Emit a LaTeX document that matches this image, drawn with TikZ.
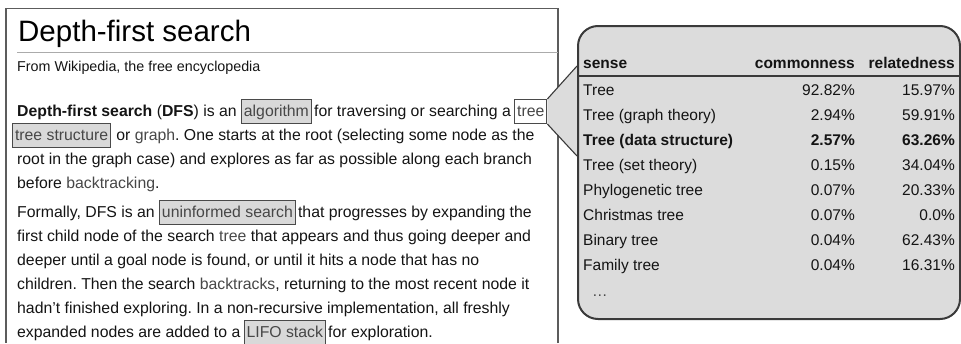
\documentclass[tikz,border=0pt]{standalone}
\usepackage{fontspec}
\setmainfont{Liberation Sans}
\definecolor{inkgray}{HTML}{141414}
\definecolor{linkgray}{HTML}{474747}
\definecolor{boxfill}{HTML}{D9D9D9}
\definecolor{boxline}{HTML}{4A4A4A}
\definecolor{panelfill}{HTML}{DCDCDC}
\definecolor{panelline}{HTML}{3A3A3A}
\definecolor{framegray}{HTML}{5C5C5C}
\definecolor{rulegray}{HTML}{ABABAB}
\newcommand{\lnk}[1]{\textcolor{linkgray}{#1}}
\frenchspacing

\begin{document}
\begin{tikzpicture}[x=1pt,y=1pt]
\tikzstyle{every node}+=[inner sep=0pt]
\tikzstyle{body}=[anchor=base west,text=inkgray,font=\fontsize{15.8}{19}\selectfont]
\tikzstyle{gbox}=[body,draw=boxline,fill=boxfill,text=linkgray,line width=1.1pt,inner xsep=2.5pt,inner ysep=3.5pt,text height=13pt,text depth=4pt]
\tikzstyle{wbox}=[gbox,fill=white]
\tikzstyle{cell}=[text=inkgray,font=\fontsize{15.5}{18}\selectfont]
\tikzstyle{head}=[cell,font=\fontsize{15.5}{18}\selectfont\bfseries]
\useasboundingbox (0,0) rectangle (961,-343);
\draw [framegray,line width=1.2] (558,-343) -- (558,-8.5) -- (6,-8.5) -- (6,-343);
\draw (18,-41) node [anchor=base west,text=black,font=\fontsize{29.5}{34}\selectfont] (ttl) {Depth-first search};
\draw [rulegray,line width=1] (17,-52) -- (558,-52);
\draw (17,-71) node [anchor=base west,text=inkgray,font=\fontsize{14.3}{17}\selectfont] (sub) {From Wikipedia, the free encyclopedia};
\draw (17,-116) node [body] (l1a) {\textbf{Depth-first search} (\textbf{DFS}) is an};
\draw ([xshift=4]l1a.base east) node [gbox] (algo) {algorithm};
\draw ([xshift=2]algo.base east) node [body] (l1b) {for traversing or searching a};
\draw ([xshift=3]l1b.base east) node [wbox] (tree) {tree};
\draw (12,-140) node [gbox] (tstr) {tree structure};
\draw ([xshift=5]tstr.base east) node [body] (l2) {or \lnk{graph}. One starts at the root (selecting some node as the};
\draw (17,-164) node [body] (l3) {root in the graph case) and explores as far as possible along each branch};
\draw (17,-188) node [body] (l4) {before \lnk{backtracking}.};
\draw (17,-217) node [body] (l5a) {Formally, DFS is an};
\draw ([xshift=4]l5a.base east) node [gbox] (unin) {uninformed search};
\draw ([xshift=2]unin.base east) node [body] (l5b) {that progresses by expanding the};
\draw (17,-241) node [body] (l6) {first child node of the search \lnk{tree} that appears and thus going deeper and};
\draw (17,-265) node [body] (l7) {deeper until a goal node is found, or until it hits a node that has no};
\draw (17,-289) node [body] (l8) {children. Then the search \lnk{backtracks}, returning to the most recent node it};
\draw (17,-313) node [body] (l9) {hadn't finished exploring. In a non-recursive implementation, all freshly};
\draw (17,-337) node [body] (l10a) {expanded nodes are added to a};
\draw ([xshift=3]l10a.base east) node [gbox] (lifo) {LIFO stack};
\draw ([xshift=2]lifo.base east) node [body] (l10b) {for exploration.};
\coordinate (pa) at (577,-66);
\coordinate (pb) at (577,-156);
\fill [panelfill] (tree.north east) -- (pa) -- (pb) -- (tree.south east) -- cycle;
\draw [panelline,line width=1.1] (tree.north east) -- (pa);
\draw [panelline,line width=1.1] (tree.south east) -- (pb);
\draw (577,-25) node [anchor=north west,draw=panelline,fill=panelfill,line width=2,rounded corners=20,minimum width=382,minimum height=293] (pnl) {};
\draw [panelline,line width=1.2] (577,-76) -- (959,-76);
\draw (583,-68) node [head,anchor=base west] (hs) {sense};
\draw (855,-68) node [head,anchor=base east] (hc) {commonness};
\draw (955,-68) node [head,anchor=base east] (hr) {relatedness};
\draw (583,-95) node [cell,anchor=base west] (s1) {Tree};
\draw (855,-95) node [cell,anchor=base east] (c1) {92.82\%};
\draw (955,-95) node [cell,anchor=base east] (r1) {15.97\%};
\draw (583,-120) node [cell,anchor=base west] (s2) {Tree (graph theory)};
\draw (855,-120) node [cell,anchor=base east] (c2) {2.94\%};
\draw (955,-120) node [cell,anchor=base east] (r2) {59.91\%};
\draw (583,-145) node [head,anchor=base west] (s3) {Tree (data structure)};
\draw (855,-145) node [head,anchor=base east] (c3) {2.57\%};
\draw (955,-145) node [head,anchor=base east] (r3) {63.26\%};
\draw (583,-170) node [cell,anchor=base west] (s4) {Tree (set theory)};
\draw (855,-170) node [cell,anchor=base east] (c4) {0.15\%};
\draw (955,-170) node [cell,anchor=base east] (r4) {34.04\%};
\draw (583,-195) node [cell,anchor=base west] (s5) {Phylogenetic tree};
\draw (855,-195) node [cell,anchor=base east] (c5) {0.07\%};
\draw (955,-195) node [cell,anchor=base east] (r5) {20.33\%};
\draw (583,-220) node [cell,anchor=base west] (s6) {Christmas tree};
\draw (855,-220) node [cell,anchor=base east] (c6) {0.07\%};
\draw (955,-220) node [cell,anchor=base east] (r6) {0.0\%};
\draw (583,-245) node [cell,anchor=base west] (s7) {Binary tree};
\draw (855,-245) node [cell,anchor=base east] (c7) {0.04\%};
\draw (955,-245) node [cell,anchor=base east] (r7) {62.43\%};
\draw (583,-270) node [cell,anchor=base west] (s8) {Family tree};
\draw (855,-270) node [cell,anchor=base east] (c8) {0.04\%};
\draw (955,-270) node [cell,anchor=base east] (r8) {16.31\%};
\draw (592,-296) node [cell,anchor=base west,text=linkgray] (more) {…};
\end{tikzpicture}
\end{document}
